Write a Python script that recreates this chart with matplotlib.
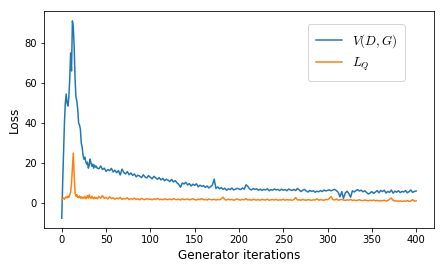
import matplotlib
matplotlib.use("Agg")
import matplotlib.pyplot as plt

plt.rcParams["mathtext.fontset"] = "cm"

# Generator iterations: every step up to 40, then every second step
iterations = list(range(0, 41)) + list(range(42, 401, 2))

# V(D,G) loss
v_loss = [
    -7.5, 10, 25, 40, 50, 54.5, 50, 48.5, 53, 62,
    75, 66, 91, 88, 78, 62, 53, 51, 47, 40,
    39, 37, 30, 28, 24, 22, 23, 21, 19.5, 20.5,
    17.5, 19, 22, 20, 18.5, 19.5, 17.5, 19, 18, 18.5,
    17.5,
    17.2, 18.6, 16.8, 17.5, 15.9, 16.8, 16.2, 17.4, 15.6, 16.5,
    15.2, 16.3, 14.1, 17.0, 15.4, 14.6, 15.8, 14.2, 15.1, 13.9,
    14.6, 13.2, 14.0, 13.5, 12.8, 14.2, 13.1, 12.6, 13.8, 12.9,
    12.2, 13.4, 12.7, 11.9, 12.8, 11.6, 12.4, 11.2, 12.0, 11.5,
    10.8, 11.9, 10.6, 11.3, 10.2, 9.4, 8.0, 10.1, 9.6, 10.4,
    9.1, 9.8, 8.6, 9.5, 8.9, 9.7, 8.2, 9.0, 8.4, 8.8,
    7.9, 8.6, 7.6, 8.3, 9.0, 12.0, 7.4, 8.1, 7.2, 7.8,
    6.9, 7.5, 6.5, 7.2, 6.8, 7.6, 6.6, 7.0, 7.4, 7.1,
    6.8, 7.6, 7.0, 9.2, 8.4, 7.1, 6.6, 7.3, 6.9, 7.2,
    6.5, 7.0, 6.4, 6.9, 6.6, 7.2, 6.2, 6.8, 6.5, 7.1,
    6.6, 6.9, 6.3, 7.0, 6.5, 6.8, 6.2, 7.1, 6.6, 6.4,
    6.9, 6.3, 7.4, 6.7, 5.8, 6.5, 6.9, 6.1, 5.6, 6.4,
    5.9, 6.2, 5.5, 6.0, 5.7, 6.3, 5.8, 6.6, 6.1, 6.4,
    6.7, 6.2, 6.6, 6.9, 6.3, 5.4, 3.2, 5.8, 2.4, 5.1,
    6.0, 4.8, 3.0, 6.2, 5.6, 6.3, 6.8, 6.1, 6.5, 5.7,
    6.2, 5.4, 4.6, 5.1, 5.8, 4.9, 5.6, 6.3, 5.2, 6.4,
    5.8, 6.5, 5.1, 5.9, 5.4, 6.6, 5.0, 6.0, 5.5, 6.2,
    5.3, 5.9, 5.6, 6.3, 5.2, 5.8, 6.6, 5.4, 5.9, 6.1,
]

# L_Q loss
lq_loss = [
    1.5, 2.2, 2.6, 2.0, 2.8, 3.2, 2.6, 3.5, 3.0, 4.2,
    5.5, 10, 18, 25, 14, 5, 3.5, 4.2, 3.0, 2.8,
    3.6, 2.5, 3.2, 2.4, 3.0, 2.6, 3.4, 2.2, 2.8, 3.8,
    2.5, 4.2, 3.0, 2.4, 3.5, 2.6, 2.2, 3.0, 2.4, 2.8,
    2.2,
    3.4, 2.5, 3.8, 2.4, 2.9, 2.1, 3.2, 2.3, 2.7, 2.0,
    2.6, 2.2, 2.9, 1.9, 2.4, 2.1, 2.7, 1.8, 2.3, 2.0,
    2.5, 1.9, 2.2, 1.7, 2.4, 2.0, 1.8, 2.3, 1.9, 2.1,
    1.7, 2.2, 1.9, 2.4, 1.8, 2.0, 1.7, 2.2, 1.9, 1.8,
    2.1, 1.7, 2.3, 1.9, 1.8, 2.0, 1.6, 2.2, 1.8, 1.9,
    2.1, 1.7, 1.9, 2.2, 1.8, 1.6, 2.0, 1.8, 2.3, 1.7,
    1.9, 1.6, 2.1, 1.8, 1.7, 2.0, 1.6, 1.9, 1.7, 2.2,
    3.0, 1.8, 1.6, 2.0, 1.7, 1.9, 1.5, 1.8, 2.1, 1.7,
    1.6, 1.9, 1.7, 2.3, 1.6, 1.8, 1.5, 1.9, 1.7, 1.6,
    1.8, 1.5, 1.9, 1.7, 1.6, 2.0, 1.5, 1.7, 1.8, 1.6,
    1.9, 1.5, 1.7, 1.6, 2.0, 1.5, 1.8, 1.6, 1.7, 1.5,
    1.8, 2.8, 1.6, 1.7, 1.5, 1.9, 1.6, 1.5, 1.8, 1.6,
    1.5, 1.7, 1.6, 2.2, 1.5, 1.8, 1.6, 1.5, 1.9, 1.7,
    2.4, 3.3, 1.8, 1.6, 2.1, 1.5, 1.7, 1.9, 1.6, 1.4,
    1.7, 1.5, 1.9, 1.4, 1.6, 1.3, 1.5, 1.7, 1.4, 1.3,
    1.6, 1.4, 1.2, 1.5, 1.3, 1.6, 1.2, 1.4, 1.1, 1.3,
    1.2, 1.5, 1.1, 1.3, 2.0, 2.6, 1.4, 1.1, 1.2, 1.0,
    1.2, 0.9, 1.1, 1.0, 1.3, 0.9, 1.1, 1.8, 1.0, 1.2,
]

fig = plt.figure(figsize=(445 / 72, 269 / 72), dpi=72)
ax = fig.add_axes([0.099, 0.152, 0.876, 0.807])

ax.plot(iterations, v_loss, color="#1f77b4", lw=1.5, label="$V(D,G)$")
ax.plot(iterations, lq_loss, color="#ff7f0e", lw=1.5, label="$L_Q$")

ax.set_xticks([0, 50, 100, 150, 200, 250, 300, 350, 400])
ax.set_yticks([0, 20, 40, 60, 80])
ax.tick_params(labelsize=10)
ax.set_xlabel("Generator iterations", fontsize=12)
ax.set_ylabel("Loss", fontsize=12)

ax.legend(loc="upper right", bbox_to_anchor=(0.926, 0.94), borderaxespad=0,
          fontsize=13, borderpad=0.6)

fig.savefig("out.png", dpi=72)
